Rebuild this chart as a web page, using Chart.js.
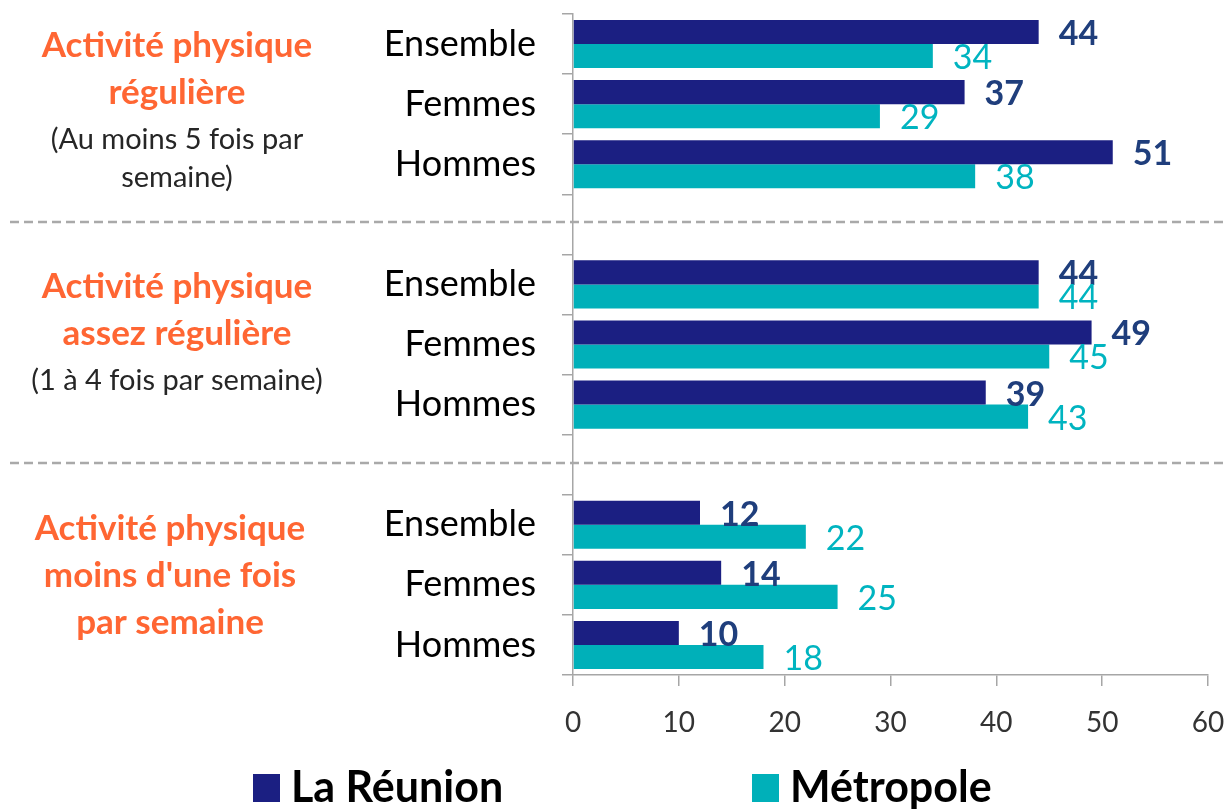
<!DOCTYPE html>
<html lang="fr">
<head>
<meta charset="utf-8">
<title>Activité physique - La Réunion / Métropole</title>
<script src="https://cdn.jsdelivr.net/npm/chart.js@4"></script>
<style>
    html, body { margin: 0; padding: 0; background: #ffffff; }
    #wrap { width: 1228px; height: 809px; }
</style>
</head>
<body>
<div id="wrap"><canvas id="activityChart" width="1228" height="809"></canvas></div>
<script>
// Data
const categories = ['Ensemble', 'Femmes', 'Hommes', '', 'Ensemble', 'Femmes', 'Hommes', '', 'Ensemble', 'Femmes', 'Hommes'];
const reunionValues = [44, 37, 51, null, 44, 49, 39, null, 12, 14, 10];
const metropoleValues = [34, 29, 38, null, 44, 45, 43, null, 22, 25, 18];
const seriesNames = ['La Réunion', 'Métropole'];
const xTicks = [0, 10, 20, 30, 40, 50, 60];

// group titles: [main lines], [sub lines]; middle category index of each group
const groupTitles = [
    [['Activité physique', 'régulière'], ['(Au moins 5 fois par', 'semaine)']],
    [['Activité physique', 'assez régulière'], ['(1 à 4 fois par semaine)']],
    [['Activité physique', 'moins d\'une fois', 'par semaine'], []]
];
const groupMiddles = [1, 5, 9];
const separators = [3, 7];

const colors = {
    reunion: '#1b1f82',
    metropole: '#00b0b9',
    reunionLabel: '#1f3e7c',
    metropoleLabel: '#00b4c0',
    title: '#ff6633',
    axis: '#a6a6a6',
    dash: '#a9a9a9',
    text: '#000000',
    tick: '#333333'
};
const FONT = 'Lato, "Open Sans", sans-serif';

// value labels at the end of each bar
const valueLabels = {
    id: 'valueLabels',
    afterDatasetsDraw(chart) {
        const ctx = chart.ctx;
        ctx.save();
        ctx.textAlign = 'left';
        ctx.textBaseline = 'middle';
        chart.data.datasets.forEach((ds, i) => {
            const meta = chart.getDatasetMeta(i);
            ctx.fillStyle = i === 0 ? colors.reunionLabel : colors.metropoleLabel;
            ctx.font = (i === 0 ? 'bold ' : '') + '34px ' + FONT;
            meta.data.forEach((bar, j) => {
                const v = ds.data[j];
                if (v === null) return;
                ctx.fillText(String(v), bar.x + 20, bar.y + 2);
            });
        });
        ctx.restore();
    }
};

// dashed separators, group titles and legend
const decorations = {
    id: 'decorations',
    afterDraw(chart) {
        const ctx = chart.ctx;
        const y = chart.scales.y;
        ctx.save();

        ctx.strokeStyle = colors.dash;
        ctx.lineWidth = 2.5;
        ctx.setLineDash([9, 5]);
        separators.forEach(idx => {
            const py = Math.round(y.getPixelForValue(idx)) - 2;
            ctx.beginPath();
            ctx.moveTo(10, py);
            ctx.lineTo(chart.width, py);
            ctx.stroke();
        });
        ctx.setLineDash([]);

        ctx.textAlign = 'center';
        ctx.textBaseline = 'middle';
        groupTitles.forEach((g, gi) => {
            const mid = y.getPixelForValue(groupMiddles[gi]);
            const cx = gi === 2 ? 170 : 177;
            let py = mid - 58 + (gi === 2 ? 2 : 0);
            ctx.fillStyle = colors.title;
            ctx.font = 'bold 35px ' + FONT;
            g[0].forEach(line => {
                ctx.fillText(line, cx, py);
                py += 47;
            });
            ctx.fillStyle = '#262626';
            ctx.font = '29px ' + FONT;
            g[1].forEach(line => {
                ctx.fillText(line, cx, py);
                py += 38;
            });
        });

        // legend
        const legendX = [253, 752];
        const legendY = 788;
        ctx.textAlign = 'left';
        ctx.font = 'bold 43px ' + FONT;
        chart.data.datasets.forEach((ds, i) => {
            ctx.fillStyle = ds.backgroundColor;
            ctx.fillRect(legendX[i], legendY - 14, 27, 28);
            ctx.fillStyle = colors.text;
            ctx.fillText(ds.label, legendX[i] + 38, legendY);
        });
        ctx.restore();
    }
};

new Chart(document.getElementById('activityChart'), {
    type: 'bar',
    data: {
        labels: categories,
        datasets: [
            {
                label: seriesNames[0],
                data: reunionValues,
                backgroundColor: colors.reunion,
                categoryPercentage: 0.8,
                barPercentage: 1.0
            },
            {
                label: seriesNames[1],
                data: metropoleValues,
                backgroundColor: colors.metropole,
                categoryPercentage: 0.8,
                barPercentage: 1.0
            }
        ]
    },
    options: {
        indexAxis: 'y',
        responsive: false,
        animation: false,
        layout: {
            padding: { top: 14, right: 20, bottom: 74, left: 0 }
        },
        plugins: {
            legend: { display: false },
            tooltip: { enabled: false }
        },
        scales: {
            x: {
                min: 0,
                max: 60,
                afterBuildTicks: scale => {
                    scale.ticks = xTicks.map(v => ({ value: v }));
                },
                afterFit: scale => {
                    scale.height = 60;
                    scale.paddingLeft = 0;
                    scale.paddingRight = 0;
                },
                grid: {
                    drawOnChartArea: false,
                    drawTicks: true,
                    tickLength: 11,
                    color: colors.axis,
                    lineWidth: 1.5
                },
                border: { color: colors.axis, width: 1.5 },
                ticks: {
                    color: colors.tick,
                    padding: 20,
                    font: { family: FONT, size: 28 }
                }
            },
            y: {
                afterFit: scale => {
                    scale.width = 573;
                    scale.paddingTop = 0;
                    scale.paddingBottom = 0;
                },
                grid: {
                    drawOnChartArea: false,
                    drawTicks: true,
                    tickLength: 11,
                    offset: true,
                    color: colors.axis,
                    lineWidth: 1.5
                },
                border: { color: colors.axis, width: 1.5 },
                ticks: {
                    color: colors.text,
                    padding: 26,
                    autoSkip: false,
                    font: { family: FONT, size: 36 }
                }
            }
        }
    },
    plugins: [valueLabels, decorations]
});
</script>
</body>
</html>
